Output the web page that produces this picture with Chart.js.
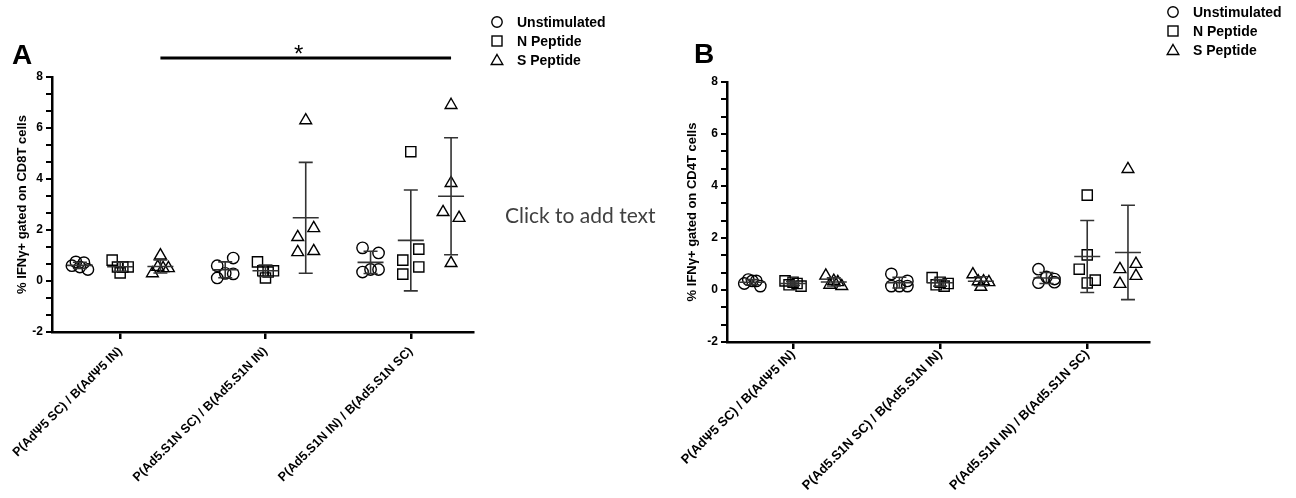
<!DOCTYPE html>
<html>
<head>
<meta charset="utf-8">
<script src="https://cdn.jsdelivr.net/npm/chart.js@4.4.1/dist/chart.umd.min.js"></script>
<style>
html,body{margin:0;padding:0;background:#fff;width:1296px;height:498px;overflow:hidden;font-family:"Liberation Sans",Arial,sans-serif;}
#wrapA{position:absolute;left:0;top:0;width:660px;height:498px;}
#wrapB{position:absolute;left:660px;top:0;width:636px;height:498px;}
.panel{position:absolute;font-weight:bold;font-size:28px;line-height:28px;color:#000;}
.legend{position:absolute;font-weight:bold;font-size:14px;color:#000;}
.legend .row{position:relative;height:19px;line-height:19px;white-space:nowrap;}
.legend svg{position:absolute;left:0;top:2px;}
.legend span{position:absolute;left:27px;top:0;}
#note{position:absolute;left:505px;top:202px;font-family:"Lato","Open Sans",sans-serif;font-size:21px;color:#404040;white-space:nowrap;}
#star{position:absolute;left:294px;top:42px;font-size:24px;font-weight:normal;line-height:24px;}
</style>
</head>
<body>
<div id="wrapA"><canvas id="chartA" width="660" height="498"></canvas></div>
<div id="wrapB"><canvas id="chartB" width="636" height="498"></canvas></div>
<div class="panel" style="left:12px;top:41px;">A</div>
<div class="panel" style="left:694px;top:40px;">B</div>
<div id="star">*</div>
<div id="note">Click to add text</div>
<div class="legend" id="legA" style="left:490px;top:13px;"></div>
<div class="legend" id="legB" style="left:1166px;top:3px;"></div>
<script>
// ---------------- data ----------------
const categories = ["P(AdΨ5 SC) / B(AdΨ5 IN)", "P(Ad5.S1N SC) / B(Ad5.S1N IN)", "P(Ad5.S1N IN) / B(Ad5.S1N SC)"];
const seriesNames = ["Unstimulated", "N Peptide", "S Peptide"];
const yTickLabels = [-2, 0, 2, 4, 6, 8];
const titleA = "% IFNγ+ gated on CD8T cells";
const titleB = "% IFNγ+ gated on CD4T cells";

// Panel A (CD8 T cells): five animals per group, one inner array per category
const cd8Unstim = [[0.60, 0.75, 0.55, 0.72, 0.45], [0.60, 0.90, 0.12, 0.30, 0.28], [1.30, 1.10, 0.35, 0.45, 0.45]];
const cd8NPep   = [[0.82, 0.32, 0.55, 0.55, 0.55], [0.75, 0.12, 0.40, 0.35, 0.40], [5.07, 0.82, 1.25, 0.27, 0.55]];
const cd8SPep   = [[1.00, 0.30, 0.55, 0.50, 0.50], [6.30, 1.72, 2.07, 1.13, 1.17], [6.90, 3.84, 2.70, 2.47, 0.70]];

// Panel B (CD4 T cells)
const cd4Unstim = [[0.25, 0.40, 0.35, 0.35, 0.15], [0.62, 0.35, 0.15, 0.15, 0.15], [0.80, 0.50, 0.28, 0.30, 0.42]];
const cd4NPep   = [[0.35, 0.20, 0.30, 0.25, 0.15], [0.48, 0.20, 0.30, 0.15, 0.25], [3.65, 1.35, 0.80, 0.27, 0.38]];
const cd4SPep   = [[0.55, 0.20, 0.35, 0.30, 0.15], [0.60, 0.12, 0.33, 0.33, 0.30], [4.65, 0.80, 0.23, 1.00, 0.54]];

// ---------------- helpers ----------------
const FONT = "'Liberation Sans', Arial, sans-serif";
const pointStyles = ['circle', 'rect', 'triangle'];
const pointRadii = [5.7, 7.2, 6.8];
const groupOffset = [-0.277, 0, 0.277];

function buildDatasets(series) {
  return series.map((cats, si) => {
    const data = [], groups = [];
    cats.forEach((vals, ci) => {
      const idx = [];
      vals.forEach(v => { idx.push(data.length); data.push({x: ci + 1 + groupOffset[si], y: v}); });
      groups.push(idx);
    });
    return {
      label: seriesNames[si], data, groups, values: cats, seriesIndex: si,
      showLine: false, pointStyle: pointStyles[si], pointRadius: pointRadii[si],
      pointBorderColor: '#000', pointBackgroundColor: 'rgba(0,0,0,0)', pointBorderWidth: 1.4,
      pointHoverRadius: pointRadii[si]
    };
  });
}

// spread points of similar value sideways (scatter-dot-plot style)
const swarmPlugin = {
  id: 'swarm',
  afterDatasetsUpdate(chart) {
    chart.data.datasets.forEach((ds, di) => {
      const meta = chart.getDatasetMeta(di);
      ds.groups.forEach(idxs => {
        const pts = idxs.map(i => ({i, el: meta.data[i]}));
        const sorted = [...pts].sort((a, b) => a.el.y - b.el.y);
        const rows = []; let cur = null;
        sorted.forEach(p => {
          if (cur && p.el.y - cur[0].el.y < 11.2) cur.push(p); else { cur = [p]; rows.push(cur); }
        });
        rows.forEach(r => {
          r.sort((a, b) => a.i - b.i);
          const n = r.length;
          r.forEach((p, k) => { p.el.x += (n === 1 ? 0 : -8 + 16 * k / (n - 1)); });
        });
      });
    });
  }
};

// mean +/- SD bars
const errPlugin = {
  id: 'err',
  afterDatasetsDraw(chart) {
    const {ctx, scales: {x, y}} = chart;
    ctx.save();
    ctx.strokeStyle = '#333';
    ctx.lineWidth = 1.6;
    chart.data.datasets.forEach(ds => {
      ds.values.forEach((vals, ci) => {
        const n = vals.length;
        const mean = vals.reduce((a, b) => a + b, 0) / n;
        const sd = Math.sqrt(vals.reduce((a, b) => a + (b - mean) * (b - mean), 0) / (n - 1));
        const px = x.getPixelForValue(ci + 1 + groupOffset[ds.seriesIndex]);
        const pm = y.getPixelForValue(mean), pt = y.getPixelForValue(mean + sd), pb = y.getPixelForValue(mean - sd);
        ctx.beginPath();
        ctx.moveTo(px, pt); ctx.lineTo(px, pb);
        ctx.moveTo(px - 7, pt); ctx.lineTo(px + 7, pt);
        ctx.moveTo(px - 7, pb); ctx.lineTo(px + 7, pb);
        ctx.moveTo(px - 13, pm); ctx.lineTo(px + 13, pm);
        ctx.stroke();
      });
    });
    ctx.restore();
  }
};

// significance bracket between S Peptide groups of first and last category (panel A)
const sigPlugin = {
  id: 'sig',
  afterDraw(chart, args, opts) {
    if (!opts.on) return;
    const {ctx, scales: {x, y}} = chart;
    const x1 = x.getPixelForValue(1 + groupOffset[2]);
    const x2 = x.getPixelForValue(3 + groupOffset[2]);
    const yy = y.getPixelForValue(8.75);
    ctx.save();
    ctx.strokeStyle = '#000'; ctx.lineWidth = 3;
    ctx.beginPath(); ctx.moveTo(x1, yy); ctx.lineTo(x2, yy); ctx.stroke();
    ctx.restore();
  }
};

function makeChart(id, series, title, lay) {
  return new Chart(document.getElementById(id), {
    type: 'scatter',
    data: {datasets: buildDatasets(series)},
    plugins: [swarmPlugin, errPlugin, sigPlugin],
    options: {
      responsive: false, animation: false, events: [],
      layout: {padding: {left: 0, right: lay.right, top: lay.top, bottom: 0}},
      plugins: {legend: {display: false}, tooltip: {enabled: false}, sig: {on: lay.sig}},
      scales: {
        x: {
          type: 'linear', min: lay.xmin, max: lay.xmax,
          afterBuildTicks: s => { s.ticks = categories.map((c, i) => ({value: i + 1})); },
          afterFit: s => { s.height = lay.xh; },
          border: {display: true, color: '#000', width: 2.5},
          grid: {display: true, drawOnChartArea: false, drawTicks: true, tickLength: 7, color: '#000', lineWidth: 2.5},
          ticks: {
            autoSkip: false, minRotation: 45, maxRotation: 45, padding: lay.xpad, color: '#000',
            font: {family: FONT, size: lay.xfs, weight: 'bold'},
            callback: v => categories[Math.round(v) - 1]
          }
        },
        y: {
          min: -2, max: 8,
          afterBuildTicks: s => {
            const t = [];
            for (let k = 0; k <= 15; k++) t.push({value: yTickLabels[0] + k * 2 / 3});
            s.ticks = t;
          },
          afterFit: s => { s.width = lay.yw; },
          border: {display: true, color: '#000', width: 2.5},
          grid: {display: true, drawOnChartArea: false, drawTicks: true, tickLength: 6, color: '#000', lineWidth: 2},
          ticks: {
            autoSkip: false, padding: 3, color: '#000', font: {family: FONT, size: 12, weight: 'bold'},
            callback: v => {
              const r = Math.round(v);
              return (Math.abs(v - r) < 1e-6 && yTickLabels.includes(r)) ? String(r) : '';
            }
          },
          title: {display: true, text: title, color: '#000', font: {family: FONT, size: 13, weight: 'bold'},
                  padding: {top: lay.tp, bottom: 0}}
        }
      }
    }
  });
}

makeChart('chartA', [cd8Unstim, cd8NPep, cd8SPep], titleA,
  {right: 187, top: 77, xh: 166, yw: 52, xmin: 0.531, xmax: 3.428, tp: 15, sig: true, xfs: 12.5, xpad: 5});
makeChart('chartB', [cd4Unstim, cd4NPep, cd4SPep], titleB,
  {right: 147, top: 82, xh: 156, yw: 67, xmin: 0.551, xmax: 3.42, tp: 25, sig: false, xfs: 13, xpad: -2});

// legends
const shapes = [
  '<circle cx="7" cy="7" r="5.2" fill="none" stroke="#000" stroke-width="1.4"/>',
  '<rect x="2" y="2" width="10" height="10" fill="none" stroke="#000" stroke-width="1.4"/>',
  '<polygon points="7,1.5 12.8,11.5 1.2,11.5" fill="none" stroke="#000" stroke-width="1.4"/>'
];
['legA', 'legB'].forEach(id => {
  document.getElementById(id).innerHTML = seriesNames.map((n, i) =>
    '<div class="row"><svg width="14" height="14">' + shapes[i] + '</svg><span>' + n + '</span></div>').join('');
});
</script>
</body>
</html>
